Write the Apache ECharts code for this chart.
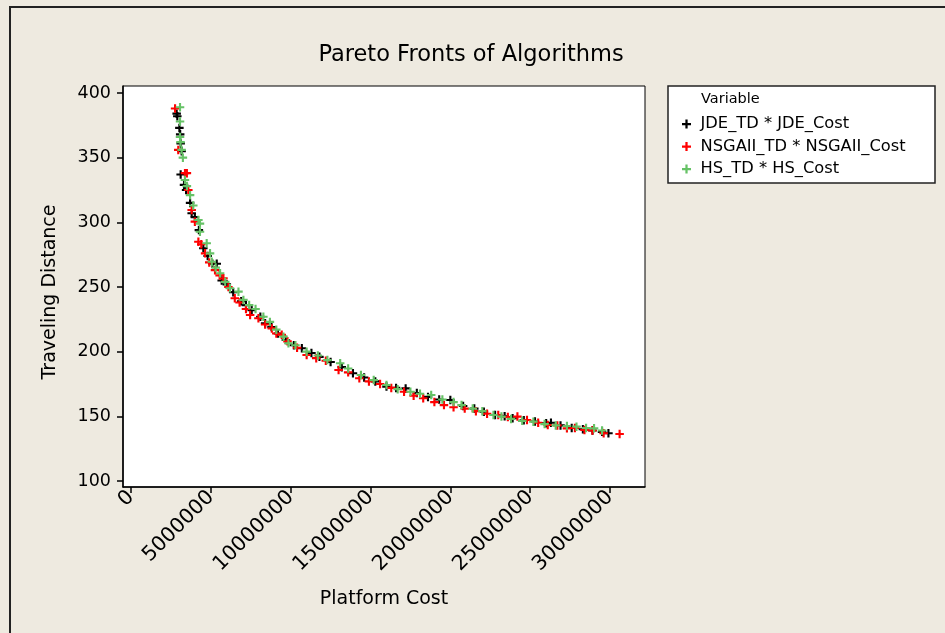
<!DOCTYPE html>
<html>
<head>
<meta charset="utf-8">
<script src="https://cdn.jsdelivr.net/npm/echarts@6/dist/echarts.min.js"></script>
<style>html,body{margin:0;padding:0;background:#EEEAE0;}#c{width:945px;height:633px;}</style>
</head>
<body>
<div id="c"></div>
<script>
// Platform cost in millions, traveling distance
const jdeCost = [2.86, 2.90, 3.03, 3.08, 3.11, 3.17, 3.11, 3.32, 3.45, 3.70, 3.80, 4.00, 4.25, 4.53, 4.80, 5.10, 5.37, 5.68, 6.00, 6.40, 6.90, 7.20, 7.56, 8.10, 8.40, 8.80, 9.20, 9.70, 10.2, 10.7, 11.3, 11.8, 12.5, 13.2, 13.9, 14.6, 15.3, 16.0, 16.6, 17.2, 17.9, 18.6, 19.3, 20.0, 20.8, 21.5, 22.1, 22.8, 23.4, 23.9, 24.6, 25.3, 26.0, 26.3, 26.9, 27.6, 28.3, 28.9, 29.5, 29.9];
const jdeTD = [384, 382, 373, 368, 361, 355, 337, 329, 325, 315, 307, 304, 294, 280, 274, 268, 268, 255, 252, 246, 239, 236, 232, 227, 222, 219, 214, 209, 205, 202.6, 199, 196, 192, 188, 183.3, 180, 177, 173, 172, 171.6, 168, 165, 163, 162.6, 158, 156, 153.5, 151, 150, 148.5, 147, 146, 144.6, 145, 143, 141, 140, 139, 138, 136.9];

const nsgaCost = [2.76, 2.96, 3.38, 3.50, 3.59, 3.80, 4.00, 4.22, 4.40, 4.64, 4.90, 5.26, 5.55, 5.79, 6.10, 6.50, 6.80, 7.20, 7.46, 7.98, 8.40, 8.82, 9.10, 9.44, 9.80, 10.4, 11.0, 11.6, 12.2, 13.0, 13.6, 14.3, 14.9, 15.6, 16.3, 17.1, 17.7, 18.3, 19.0, 19.6, 20.2, 20.9, 21.6, 22.3, 23.0, 23.6, 24.2, 24.8, 25.5, 26.1, 26.7, 27.3, 27.8, 28.4, 28.9, 29.6, 30.6];
const nsgaTD = [388, 356, 338, 338, 325, 309.5, 300.5, 285, 283, 276, 269, 263, 259, 256.7, 250, 241.3, 238, 233, 228.3, 225.8, 221, 218, 214, 213, 208, 203, 197.4, 195, 193, 185.8, 184, 179.4, 177, 175, 172, 169, 166, 164, 161, 158.7, 157, 156, 154, 152, 151, 149.5, 149.8, 147.2, 145, 143.3, 143, 140.7, 141, 139.5, 139, 136.9, 136.3];

const hsCost = [3.07, 3.07, 3.07, 3.10, 3.17, 3.25, 3.38, 3.50, 3.70, 3.90, 4.22, 4.32, 4.32, 4.74, 4.95, 5.06, 5.30, 5.58, 5.90, 6.20, 6.73, 7.04, 7.40, 7.80, 8.29, 8.70, 9.10, 9.55, 9.86, 10.3, 11.0, 11.7, 12.3, 13.1, 13.6, 14.4, 15.2, 16.0, 16.7, 17.5, 18.1, 18.8, 19.5, 20.2, 20.7, 21.4, 22.0, 22.7, 23.2, 23.8, 24.5, 25.2, 25.9, 26.6, 27.3, 27.9, 28.5, 29.0, 29.5];
const hsTD = [389, 378, 366, 362, 356, 350, 332.7, 328, 321, 313, 301.8, 299, 292.7, 283.8, 276, 269.5, 265, 260.6, 254, 249, 246.4, 240, 236, 233, 227, 223, 217, 211.6, 206.5, 205, 200, 197, 193.5, 191, 187, 182, 178, 174.2, 171, 169, 167.5, 166.5, 163, 161, 158.7, 156, 154, 151, 149.8, 148, 146.5, 145.9, 144, 143, 142.5, 142, 141, 140.7, 139];

const xTicks = [0, 5000000, 10000000, 15000000, 20000000, 25000000, 30000000];
const yTicks = [100, 150, 200, 250, 300, 350, 400];
const seriesNames = ['JDE_TD * JDE_Cost', 'NSGAII_TD * NSGAII_Cost', 'HS_TD * HS_Cost'];
const seriesColors = ['#000000', '#FF0000', '#66C266'];

const pairs = (c, t) => c.map((v, i) => [v * 1e6, t[i]]);
const plus = 'path://M3,0H5V3H8V5H5V8H3V5H0V3H3Z';
const FONT = 'DejaVu Sans';

const chart = echarts.init(document.getElementById('c'));
const dataSets = [pairs(jdeCost, jdeTD), pairs(nsgaCost, nsgaTD), pairs(hsCost, hsTD)];

chart.setOption({
  backgroundColor: '#EEEAE0',
  animation: false,
  title: {
    text: 'Pareto Fronts of Algorithms',
    left: 466, top: 39, textAlign: 'center',
    textStyle: { fontFamily: FONT, fontSize: 22.5, fontWeight: 'normal', color: '#000' }
  },
  graphic: [
    { type: 'rect', z: -10, shape: { x: 10, y: 7, width: 1000, height: 700 }, style: { fill: 'none', stroke: '#222', lineWidth: 2 } },
    { type: 'rect', z: 0, shape: { x: 668, y: 86, width: 267, height: 97 }, style: { fill: '#fff', stroke: '#222', lineWidth: 1.5 } },
    { type: 'text', z: 1, x: 701, y: 92, style: { text: 'Variable', font: '14.5px "DejaVu Sans"', fill: '#000' } }
  ],
  legend: {
    orient: 'vertical', left: 682, top: 116,
    itemWidth: 18, itemHeight: 9, itemGap: 6.5, padding: 0,
    textStyle: { fontFamily: FONT, fontSize: 16.3, color: '#000' },
    data: seriesNames.map((n) => ({ name: n, icon: plus }))
  },
  grid: { left: 123, top: 86, right: 300, bottom: 146, show: true, backgroundColor: '#fff', borderColor: '#000', borderWidth: 1 },
  xAxis: {
    type: 'value', min: -501000, max: 32190000,
    name: 'Platform Cost', nameLocation: 'middle', nameGap: 103,
    nameTextStyle: { fontFamily: FONT, fontSize: 19, color: '#000' },
    axisLine: { show: true, onZero: false, lineStyle: { color: '#000', width: 1.5 } },
    axisTick: { show: true, length: 6, customValues: xTicks, lineStyle: { color: '#000', width: 1.5 } },
    axisLabel: { customValues: xTicks, rotate: 45, fontFamily: FONT, fontSize: 20.5, color: '#000', margin: 7, formatter: (v) => String(v) },
    splitLine: { show: false }
  },
  yAxis: {
    type: 'value', min: 95.36, max: 405.4,
    name: 'Traveling Distance', nameLocation: 'middle', nameGap: 63, nameRotate: 90,
    nameTextStyle: { fontFamily: FONT, fontSize: 19, color: '#000', padding: [0, 11, 0, 0] },
    axisLine: { show: true, onZero: false, lineStyle: { color: '#000', width: 1.5 } },
    axisTick: { show: true, length: 6, customValues: yTicks, lineStyle: { color: '#000', width: 1.5 } },
    axisLabel: { customValues: yTicks, fontFamily: FONT, fontSize: 17.5, color: '#000', margin: 12 },
    splitLine: { show: false }
  },
  series: dataSets.map((d, i) => ({
    type: 'scatter', name: seriesNames[i], data: d,
    symbol: plus, symbolSize: 8.5, symbolKeepAspect: true,
    itemStyle: { color: seriesColors[i], opacity: 1 },
    z: 2 + i
  }))
});
</script>
</body>
</html>
